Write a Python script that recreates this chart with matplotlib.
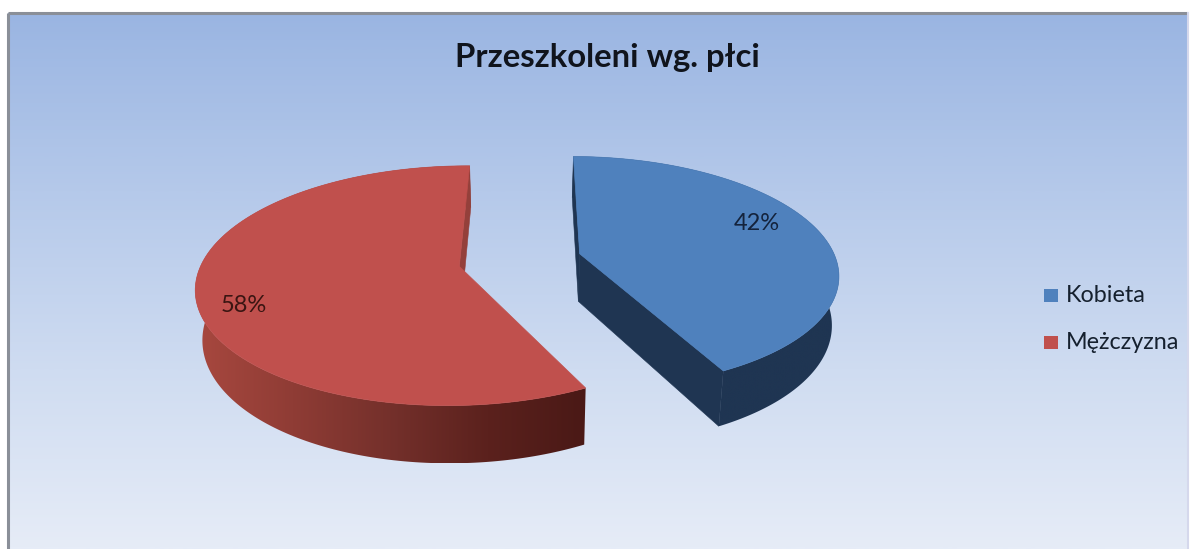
#!/usr/bin/env python3
"""Exploded 3D-look pie: Przeszkoleni wg. plci."""

import numpy as np
import matplotlib
matplotlib.use("Agg")
import matplotlib.pyplot as plt
from matplotlib.colors import LinearSegmentedColormap
from matplotlib.patches import Polygon, Rectangle

TITLE = "Przeszkoleni wg. płci"
categories = ["Kobieta", "Mężczyzna"]
shares = [42.4, 57.6]
top_colors = ["#4F81BD", "#C0504D"]
label_colors = ["#14233C", "#3A1512"]

W, H = 1192, 549
# projection of the pie plane onto the picture
VX, VY = 520.0, 260.0
A, B, K = 256.5, 114.7, 0.16
EXPLODE = 0.241
DEPTH = 48.0
SHRINK = 0.022
FIRST_ANGLE = 89.5


def project(wx, wy, low=False):
    s = 1.0 / (1.0 + K * wy)
    x = VX + A * wx * s
    y = VY - B * wy * s
    if low:
        x = VX + (x - VX) * (1 - SHRINK)
        y = y + DEPTH * s
    return x, y


def slice_geometry(start, sweep):
    mid = np.radians(start - sweep / 2)
    ox, oy = EXPLODE * np.cos(mid), EXPLODE * np.sin(mid)
    theta = np.radians(np.linspace(start, start - sweep, 200))
    return ox, oy, ox + np.cos(theta), oy + np.sin(theta)


def gradient(ax, colors, extent, clip=None, horizontal=False, zorder=1):
    cmap = LinearSegmentedColormap.from_list("g", colors)
    ramp = np.linspace(0, 1, 512)
    ramp = ramp[None, :] if horizontal else ramp[:, None]
    im = ax.imshow(ramp, cmap=cmap, extent=extent, aspect="auto", zorder=zorder,
                   origin="upper", interpolation="bilinear")
    if clip is not None:
        ax.add_patch(clip)
        im.set_clip_path(clip)
    return im


def draw_slice(ax, start, sweep, color, side_colors, cut_color, zorder):
    ox, oy, rx, ry = slice_geometry(start, sweep)
    top_x, top_y = project(rx, ry)
    low_x, low_y = project(rx, ry, low=True)
    ax_x, ax_y = project(ox, oy)
    lax_x, lax_y = project(ox, oy, low=True)

    side = np.column_stack([np.r_[top_x, low_x[::-1]], np.r_[top_y, low_y[::-1]]])
    clip = Polygon(side, closed=True, facecolor="none", edgecolor="none",
                   transform=ax.transData, zorder=zorder)
    gradient(ax, side_colors, (side[:, 0].min(), side[:, 0].max(), side[:, 1].max(), side[:, 1].min()),
             clip=clip, horizontal=True, zorder=zorder)

    # a cut face shows only if the extrusion moves away from the top face
    mx, my = top_x[100] - ax_x, top_y[100] - ax_y
    for i in (0, -1):
        ex, ey = top_x[i] - ax_x, top_y[i] - ax_y
        if (ex * my - ey * mx) * ex < 0:
            cut = [(top_x[i], top_y[i]), (low_x[i], low_y[i]), (lax_x, lax_y), (ax_x, ax_y)]
            ax.add_patch(Polygon(cut, closed=True, facecolor=cut_color, edgecolor=cut_color,
                                 linewidth=0.4, zorder=zorder + 0.1))

    face = np.column_stack([np.r_[ax_x, top_x], np.r_[ax_y, top_y]])
    ax.add_patch(Polygon(face, closed=True, facecolor=color, edgecolor=color,
                         linewidth=0.5, zorder=zorder + 0.2))


fig = plt.figure(figsize=(W / 100, H / 100), dpi=100, facecolor="white")
ax = fig.add_axes([0, 0, 1, 1])
ax.axis("off")

# panel with the vertical gradient and its frame
gradient(ax, ["#9AB5E2", "#B5C9EA", "#CFDCF1", "#E6ECF7"], (8, 1188, 549, 13), zorder=0)
ax.plot([8, 8], [549, 13], color="#8A8F98", linewidth=2.2, zorder=0.5, solid_capstyle="butt")
ax.plot([8, 1188], [13, 13], color="#8A8F98", linewidth=2.2, zorder=0.5, solid_capstyle="butt")
ax.plot([1188, 1188], [13, 549], color="#D5D8EC", linewidth=1.5, zorder=0.5)

side_colors = [["#1F3552", "#1F3552"],
               ["#A8483F", "#8F3C35", "#74302B", "#5B211D", "#4A1916"]]
cut_colors = ["#1F3552", "#94403B"]

fractions = np.array(shares) / sum(shares) * 360
start = FIRST_ANGLE
for frac, color, sides, cut in zip(fractions, top_colors, side_colors, cut_colors):
    draw_slice(ax, start, frac, color, sides, cut, zorder=2)
    start -= frac

ax.set_xlim(0, W)
ax.set_ylim(H, 0)

ax.text(607, 57, TITLE, family="Lato", fontsize=23.7, fontweight="bold",
        color="#10141C", ha="center", va="center", zorder=5)

ax.text(757, 223, f"{shares[0]:.0f}%", family="Lato", fontsize=17, color=label_colors[0],
        ha="center", va="center", zorder=5)
ax.text(244, 306, f"{shares[1]:.0f}%", family="Lato", fontsize=17, color=label_colors[1],
        ha="center", va="center", zorder=5)

for name, color, y in zip(categories, top_colors, [295, 342]):
    ax.add_patch(Rectangle((1043.5, y - 6.5), 14, 13, facecolor=color, edgecolor="none", zorder=5))
    ax.text(1066, y + 0.5, name, family="Lato", fontsize=16.8, color="#15202E",
            ha="left", va="center", zorder=5)

fig.savefig("out.png", dpi=100)
